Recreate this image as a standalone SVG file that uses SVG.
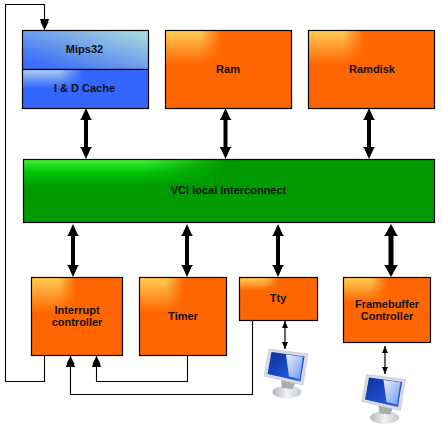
<svg xmlns="http://www.w3.org/2000/svg" width="442" height="438" viewBox="0 0 442 438">
<style>
.box{stroke:#000;stroke-width:1.2}
.o{fill:#ff6600}.b{fill:#3366ff}.g{fill:#009900}
text{font-family:"Liberation Sans",Arial,sans-serif;font-size:11px;font-weight:bold;text-anchor:middle;fill:#111}
.thin{fill:none;stroke:#000;stroke-width:1.1}
.arrow{fill:none;stroke:#000;stroke-width:4;marker-start:url(#ba);marker-end:url(#be)}
.fat{stroke-width:5;marker-start:url(#bag);marker-end:url(#beg)}
.small{fill:none;stroke:#000;stroke-width:1.2;marker-start:url(#sa);marker-end:url(#se)}
</style>
<defs>
<marker id="be" markerUnits="userSpaceOnUse" markerWidth="12" markerHeight="12" refX="0" refY="6" orient="auto"><path d="M0,0L2,1.500L12,6L2,10.500L0,12z" fill="#000"/></marker>
<marker id="ba" markerUnits="userSpaceOnUse" markerWidth="12" markerHeight="12" refX="12" refY="6" orient="auto"><path d="M12,0L10,1.500L0,6L10,10.500L12,12z" fill="#000"/></marker>
<marker id="beg" markerUnits="userSpaceOnUse" markerWidth="12" markerHeight="14" refX="0" refY="7" orient="auto"><path d="M0,0L2,1.500L12,7L2,12.500L0,14z" fill="#000"/></marker>
<marker id="bag" markerUnits="userSpaceOnUse" markerWidth="12" markerHeight="14" refX="12" refY="7" orient="auto"><path d="M12,0L10,1.500L0,7L10,12.500L12,14z" fill="#000"/></marker>
<marker id="t" markerUnits="userSpaceOnUse" markerWidth="11" markerHeight="9" refX="11" refY="4.500" orient="auto"><path d="M0,0L3,1L3,.500L11,4.500L3,8.500L3,8L0,9z" fill="#000"/></marker>
<marker id="se" markerUnits="userSpaceOnUse" markerWidth="7" markerHeight="7" refX="7" refY="3" orient="auto"><path d="M0,0L7,3L0,6z" fill="#000"/></marker>
<marker id="sa" markerUnits="userSpaceOnUse" markerWidth="7" markerHeight="7" refX="0" refY="3" orient="auto"><path d="M7,0L0,3L7,6z" fill="#000"/></marker>
<linearGradient id="oV" x1="0" y1="0" x2="0" y2="1"><stop offset="0" stop-color="#ffcc55"/><stop offset="1" stop-color="#ff6600"/></linearGradient>
<linearGradient id="gV" x1="0" y1="0" x2="0" y2="1"><stop offset="0" stop-color="#44ee33"/><stop offset=".45" stop-color="#00c80a"/><stop offset="1" stop-color="#009900"/></linearGradient>
<linearGradient id="cV" x1="0" y1="0" x2="0" y2="1"><stop offset="0" stop-color="#a8ccee"/><stop offset="1" stop-color="#3366ff"/></linearGradient>
<linearGradient id="mD" x1="0" y1="1" x2="1" y2="0"><stop offset="0" stop-color="#3366ff"/><stop offset=".2" stop-color="#4477f5"/><stop offset="1" stop-color="#b0dedd"/></linearGradient>
<linearGradient id="fh" x1="0" y1="0" x2="1" y2="0"><stop offset="0" stop-color="#fff"/><stop offset=".6" stop-color="#fff"/><stop offset="1" stop-color="#000"/></linearGradient>
<mask id="fade" maskContentUnits="objectBoundingBox"><rect width="1" height="1" fill="url(#fh)"/></mask>
<linearGradient id="scr" x1="0" y1="0" x2="1" y2="1"><stop offset="0" stop-color="#0d2f9a"/><stop offset=".6" stop-color="#1d4fd0"/><stop offset="1" stop-color="#2a66e8"/></linearGradient>
<linearGradient id="gl" x1="0" y1="0" x2="1" y2="1"><stop offset="0" stop-color="#f8faff"/><stop offset="1" stop-color="#6f9cf0"/></linearGradient>
<linearGradient id="stand" x1="0" y1="0" x2="1" y2="0"><stop offset="0" stop-color="#b4b8bc"/><stop offset=".5" stop-color="#f0f2f4"/><stop offset="1" stop-color="#c4c8cc"/></linearGradient>
<g id="monitor">
<ellipse cx="287" cy="392" rx="14.500" ry="6.500" fill="url(#stand)"/>
<path d="M281,380L295,383L293,389L282,388z" fill="#a8acb0"/>
<path d="M269,349L308,354L303,385L264,376z" fill="#d8dce0" stroke="#c0c4c8" stroke-width=".6"/>
<path d="M271.500,352L304.500,356.500L300.500,381.500L267.500,374z" fill="url(#scr)"/>
<path d="M286,354.500L303,356.800L299.500,379L289,376.500z" fill="url(#gl)" opacity=".95"/>
</g>
</defs>

<g id="connectors">
<path class="thin" d="M44.500,355V381.500H5.500V4.500H44.500V30" marker-end="url(#t)"/>
<path class="thin" d="M187.500,355V381.500H96.500V356" marker-end="url(#t)"/>
<path class="thin" d="M252.500,320V394.500H70.500V356" marker-end="url(#t)"/>
<line class="arrow" x1="86" y1="120" x2="86" y2="147"/>
<line class="arrow" x1="225.500" y1="120" x2="225.500" y2="147"/>
<line class="arrow" x1="369" y1="120" x2="369" y2="147"/>
<line class="arrow" x1="73" y1="236" x2="73" y2="265"/>
<line class="arrow" x1="187" y1="236" x2="187" y2="265"/>
<line class="arrow" x1="278" y1="236" x2="278" y2="265"/>
<line class="arrow fat" x1="391" y1="236" x2="391" y2="265"/>
<line class="small" x1="285" y1="321" x2="285" y2="349"/>
<line class="small" x1="385" y1="346" x2="385" y2="374"/>
</g>

<g id="mips32"><rect class="box" x="22.500" y="30.500" width="126" height="39" fill="url(#mD)"/><text x="84.500" y="53">Mips32</text></g>
<g id="cache"><rect class="box b" x="22.500" y="69.500" width="126" height="39"/><rect x="23.100" y="70.100" width="60" height="18" fill="url(#cV)" mask="url(#fade)"/><text x="84.500" y="92">I &amp; D Cache</text></g>
<g id="ram"><rect class="box o" x="165.500" y="30.500" width="126" height="78"/><rect x="166.100" y="31.100" width="56" height="33" fill="url(#oV)" mask="url(#fade)"/><text x="228" y="73">Ram</text></g>
<g id="ramdisk"><rect class="box o" x="308.500" y="30.500" width="126" height="78"/><rect x="309.100" y="31.100" width="56" height="33" fill="url(#oV)" mask="url(#fade)"/><text x="372" y="73">Ramdisk</text></g>
<g id="vci"><rect class="box g" x="23.500" y="159.500" width="411" height="63"/><rect x="24.100" y="160.100" width="200" height="26" fill="url(#gV)" mask="url(#fade)"/><text x="228.500" y="194">VCI local Interconnect</text></g>
<g id="interrupt"><rect class="box o" x="31.500" y="277.500" width="91" height="78"/><rect x="32.100" y="278.100" width="44" height="34" fill="url(#oV)" mask="url(#fade)"/><text x="77" y="314">Interrupt</text><text x="77" y="326">controller</text></g>
<g id="timer"><rect class="box o" x="139.500" y="277.500" width="87" height="78"/><rect x="140.100" y="278.100" width="44" height="34" fill="url(#oV)" mask="url(#fade)"/><text x="183" y="320">Timer</text></g>
<g id="tty"><rect class="box o" x="239.500" y="277.500" width="78" height="43"/><rect x="240.100" y="278.100" width="40" height="13" fill="url(#oV)" mask="url(#fade)"/><text x="278" y="302">Tty</text></g>
<g id="framebuffer"><rect class="box o" x="343.500" y="277.500" width="87" height="65"/><rect x="344.100" y="278.100" width="44" height="24" fill="url(#oV)" mask="url(#fade)"/><text x="387" y="308">Framebuffer</text><text x="387" y="320">Controller</text></g>
<g id="monitor-tty"><use href="#monitor"/></g>
<g id="monitor-fb"><use href="#monitor" x="97.500" y="25.500"/></g>
</svg>
